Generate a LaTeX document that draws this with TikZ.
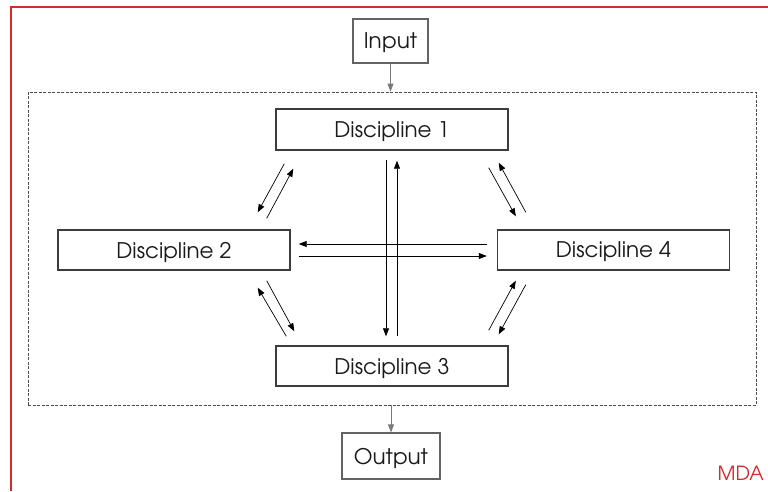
\documentclass[tikz,border=0pt]{standalone}
\usepackage{fontspec}
\setmainfont{texgyreadventor-regular.otf}
\usetikzlibrary{arrows.meta}
\definecolor{boxline}{HTML}{3C3C3C}
\definecolor{frame}{HTML}{D42A2A}
\definecolor{feed}{HTML}{7A7A7A}
\tikzset{
  discbox/.style={draw=boxline, line width=1.4pt, fill=white, minimum width=232pt,
    minimum height=40pt, inner sep=0pt, text depth=0pt,
    font=\fontsize{21.5}{24}\selectfont, text=black!90},
  iobox/.style={draw=boxline!80, line width=1.1pt, fill=white, inner sep=0pt, text depth=0pt,
    font=\fontsize{21.5}{24}\selectfont, text=black!90},
  link/.style={draw=black, line width=0.7pt, -{Triangle[length=8pt,width=6pt]}},
  feedarrow/.style={draw=feed, line width=0.9pt, -{Triangle[length=8pt,width=6pt]}},
  group/.style={draw=black!70, line width=0.8pt, dash pattern=on 3pt off 1.5pt}
}
\begin{document}
\begin{tikzpicture}[x=1pt, y=-1pt]
  \useasboundingbox (0,0) rectangle (768,491);
  % page frame
  \draw[frame, line width=2pt] (10.5,491) -- (10.5,6.5) -- (768,6.5);

  % dashed analysis block
  \node[group, minimum width=728pt, minimum height=313pt, inner sep=0pt] (grp) at (392,248.5) {};

  % input / output
  \node[iobox, minimum width=75pt, minimum height=44pt] (in) at (390.5,41) {Input};
  \node[iobox, minimum width=98pt, minimum height=46pt] (out) at (391,456) {Output};
  \draw[feedarrow] (in.south) -- (in.south |- grp.north);
  \draw[feedarrow] (out.north |- grp.south) -- (out.north);

  % disciplines
  \node[discbox, minimum height=41pt] (d1) at (392,129.5) {Discipline 1};
  \node[discbox] (d2) at (174,250) {Discipline 2};
  \node[discbox] (d4) at (613.5,250) {Discipline 4};
  \node[discbox] (d3) at (392,366) {Discipline 3};

  % couplings 1 <-> 3
  \draw[link] ([shift={(-6,9)}]d1.south) -- ([shift={(-6,-9)}]d3.north);
  \draw[link] ([shift={(5,-9)}]d3.north) -- ([shift={(5,10)}]d1.south);
  % couplings 2 <-> 4
  \draw[link] ([shift={(-10,-6)}]d4.west) -- ([shift={(8,-6)}]d2.east);
  \draw[link] ([shift={(8,6)}]d2.east) -- ([shift={(-10,6)}]d4.west);
  % couplings 1 <-> 2
  \draw[link] ([shift={(9,13)}]d1.south west) -- ([shift={(-33,-17)}]d2.north east);
  \draw[link] ([shift={(-24,-11)}]d2.north east) -- ([shift={(18,18)}]d1.south west);
  % couplings 1 <-> 4
  \draw[link] ([shift={(-20,17)}]d1.south east) -- ([shift={(19,-13)}]d4.north west);
  \draw[link] ([shift={(29,-17)}]d4.north west) -- ([shift={(-10,12)}]d1.south east);
  % couplings 2 <-> 3
  \draw[link] ([shift={(11,-9)}]d3.north west) -- ([shift={(-33,17)}]d2.south east);
  \draw[link] ([shift={(-24,10)}]d2.south east) -- ([shift={(19,-14)}]d3.north west);
  % couplings 3 <-> 4
  \draw[link] ([shift={(-20,-15)}]d3.north east) -- ([shift={(19,10)}]d4.south west);
  \draw[link] ([shift={(29,14)}]d4.south west) -- ([shift={(-10,-11)}]d3.north east);

  % label
  \node[anchor=base east, inner sep=0pt, text=frame, font=\fontsize{19.5}{22}\selectfont] (mda) at (764,480) {MDA};
\end{tikzpicture}
\end{document}
